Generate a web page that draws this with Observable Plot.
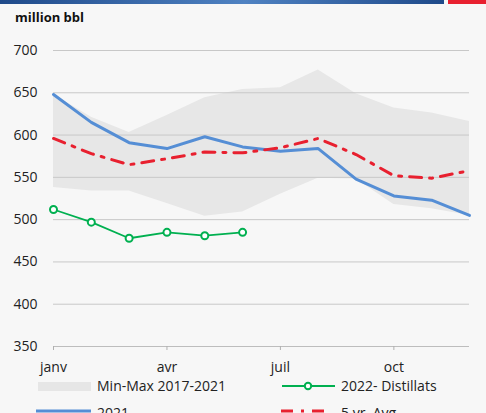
<!DOCTYPE html>
<html><head><meta charset="utf-8">
<script src="https://cdn.jsdelivr.net/npm/d3@7"></script>
<script src="https://cdn.jsdelivr.net/npm/@observablehq/plot@0.6"></script>
<style>
html,body{margin:0;padding:0;background:#f7f7f7;width:486px;height:413px;overflow:hidden;font-family:"Open Sans",sans-serif;position:relative}
#bar{position:absolute;left:0;top:0;width:444px;height:4px;background:linear-gradient(90deg,#1f4a8a,#4f82c2 55%,#1f4a8a);}
#red{position:absolute;left:448px;top:0;width:38px;height:4px;background:#e8202f;}
#title{position:absolute;left:15px;top:8px;font-weight:bold;font-size:13px;color:#111}
#chart{position:absolute;left:0;top:30px;}
.leg{position:absolute;font-size:14px;color:#222;white-space:nowrap;line-height:16px}
.sw{position:absolute}
</style></head><body>
<div id="bar"></div><div id="red"></div>
<div id="title">million bbl</div>
<div id="chart"></div>
<svg class="sw" style="left:38px;top:382px" width="53" height="9"><rect width="53" height="9" fill="#e6e6e6"/></svg>
<div class="leg" style="left:97px;top:378px">Min-Max 2017-2021</div>
<svg class="sw" style="left:281px;top:381px" width="55" height="10"><line x1="1" x2="54" y1="5" y2="5" stroke="#00b050" stroke-width="1.8"/><circle cx="27" cy="5" r="3.2" fill="#fff" stroke="#00b050" stroke-width="2"/></svg>
<div class="leg" style="left:341px;top:378px">2022- Distillats</div>
<svg class="sw" style="left:36px;top:408px" width="55" height="5"><line x1="0" x2="55" y1="3" y2="3" stroke="#558ed5" stroke-width="3"/></svg>
<div class="leg" style="left:97px;top:405px">2021</div>
<svg class="sw" style="left:281px;top:408px" width="48" height="5"><line x1="0" x2="48" y1="3" y2="3" stroke="#e8202f" stroke-width="3" stroke-dasharray="12,8,3,8"/></svg>
<div class="leg" style="left:341px;top:405px">5 yr. Avg</div>
<script>
const monthIdx = [0,1,2,3,4,5,6,7,8,9,10,11];
const minVals = [538,534,534,519,504,509,530,549,548,518,513,505];
const maxVals = [648,621,603,623,644,654,656,677,649,632,626,616];
const vals2021 = [648,615,591,584,598,586,581,584,548,528,523,505];
const avgVals = [596,578,565,572,580,579,585,596,577,552,549,558];
const vals2022 = [512,497,478,485,481,485];
const xTickPos = [0,3,6,9];
const xTickLabels = ["janv","avr","juil","oct"];
const yTicks = [350,400,450,500,550,600,650,700];

const rows = monthIdx.map((m,i)=>({m, min:minVals[i], max:maxVals[i], v21:vals2021[i], avg:avgVals[i]}));
const rows22 = vals2022.map((v,i)=>({m:monthIdx[i], v}));

const chart = Plot.plot({
  width:486, height:348,
  marginLeft:53, marginRight:17, marginTop:20, marginBottom:32,
  style:{background:"transparent", fontFamily:"Open Sans", fontSize:"14px", color:"#222"},
  x:{domain:[0,11], label:null},
  y:{domain:[350,700], label:null},
  marks:[
    Plot.areaY(rows,{x:"m", y1:"min", y2:"max", fill:"#e7e7e7"}),
    Plot.gridY(yTicks.slice(1),{stroke:"#c8c8c8", strokeOpacity:1, strokeWidth:1}),
    Plot.ruleY([350],{stroke:"#bdbdbd", strokeWidth:1}),
    Plot.axisY({ticks:yTicks, tickSize:0, tickPadding:16, fill:"#222"}),
    Plot.axisX({ticks:xTickPos, tickFormat:d=>xTickLabels[xTickPos.indexOf(d)], tickSize:4, tickPadding:12, stroke:"#b0b0b0", fill:"#222"}),
    Plot.line(rows,{x:"m", y:"v21", stroke:"#558ed5", strokeWidth:3}),
    Plot.line(rows,{x:"m", y:"avg", stroke:"#e8202f", strokeWidth:3, strokeDasharray:"12,8,3,8"}),
    Plot.line(rows22,{x:"m", y:"v", stroke:"#00b050", strokeWidth:1.8}),
    Plot.dot(rows22,{x:"m", y:"v", r:3.5, fill:"#fff", stroke:"#00b050", strokeWidth:2})
  ]
});
document.getElementById("chart").appendChild(chart);
</script>
</body></html>
